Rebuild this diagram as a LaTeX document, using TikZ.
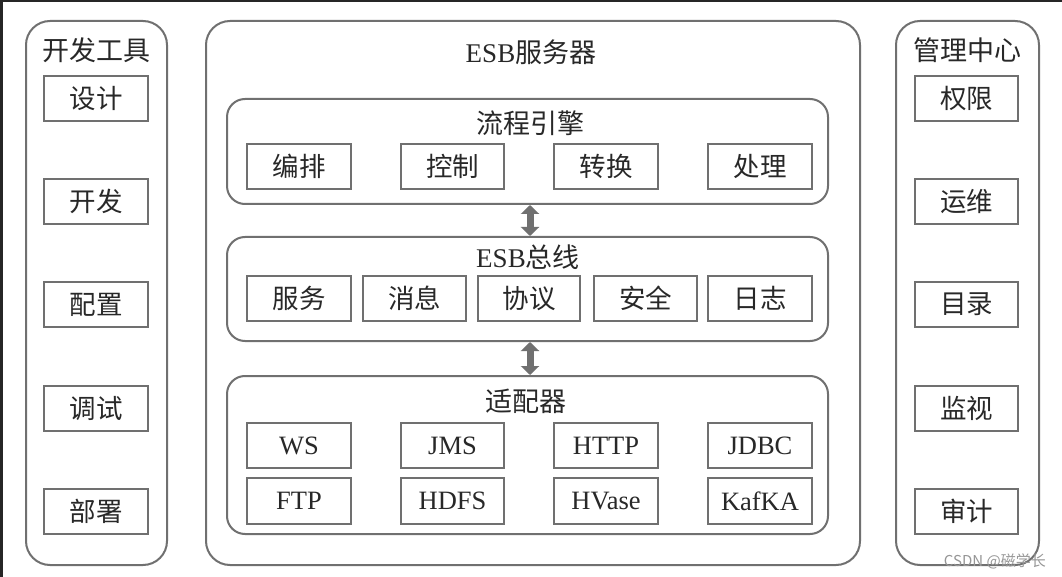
\documentclass[tikz,border=0pt]{standalone}
\usepackage{fontspec}
\setmainfont{Liberation Serif}
\newfontfamily\cjk{Noto Sans CJK SC}
\usetikzlibrary{arrows.meta}
\definecolor{linegray}{RGB}{112,112,112}
\definecolor{textc}{RGB}{40,40,40}
\definecolor{wmark}{RGB}{150,150,150}
\begin{document}
\begin{tikzpicture}[x=1pt,y=-1pt,
  panel/.style={draw=linegray, line width=2pt, rounded corners=24pt, inner sep=0pt},
  subpanel/.style={draw=linegray, line width=2pt, rounded corners=18pt, inner sep=0pt},
  item/.style={draw=linegray, line width=2pt, minimum width=104pt, minimum height=45pt, inner sep=0pt, text=textc, font=\fontsize{26.5}{26.5}\selectfont},
  ttl/.style={inner sep=0pt, text=textc, font=\fontsize{27}{27}\selectfont},
  fat/.style={draw=linegray, line width=7pt, {Triangle[length=9pt,width=18pt]}-{Triangle[length=9pt,width=18pt]}},
]
\useasboundingbox (0,0) rectangle (1062,577);
\fill[white] (0,0) rectangle (1062,577);
\fill[black!85] (0,0) rectangle (1062,2.5);
\fill[black!85] (0,0) rectangle (2.5,577);

% outer panels
\node[panel, minimum width=141pt, minimum height=544pt] (left) at (96.5,293) {};
\node[panel, minimum width=654pt, minimum height=544pt] (mid) at (533,293) {};
\node[panel, minimum width=143pt, minimum height=544pt] (right) at (967.5,293) {};

\node[ttl] (lefttitle) at (96,50) {\cjk 开发工具};
\node[ttl] (righttitle) at (967,50) {\cjk 管理中心};
\node[ttl] (midtitle) at (531,52) {ESB\cjk 服务器};

% left items
\node[item] (d1) at (96,98.5) {\cjk 设计};
\node[item] (d2) at (96,201.5) {\cjk 开发};
\node[item] (d3) at (96,304.5) {\cjk 配置};
\node[item] (d4) at (96,408.5) {\cjk 调试};
\node[item] (d5) at (96,511.5) {\cjk 部署};

% right items
\node[item, minimum width=103pt] (m1) at (966.5,98.5) {\cjk 权限};
\node[item, minimum width=103pt] (m2) at (966.5,201.5) {\cjk 运维};
\node[item, minimum width=103pt] (m3) at (966.5,304.5) {\cjk 目录};
\node[item, minimum width=103pt] (m4) at (966.5,408.5) {\cjk 监视};
\node[item, minimum width=103pt] (m5) at (966.5,511.5) {\cjk 审计};

% sub panels
\node[subpanel, minimum width=601pt, minimum height=105pt] (p1) at (527.5,151.5) {};
\node[subpanel, minimum width=601pt, minimum height=104pt] (p2) at (527.5,289) {};
\node[subpanel, minimum width=601pt, minimum height=158pt] (p3) at (527.5,455) {};

\node[ttl] (p1t) at (530,123) {\cjk 流程引擎};
\node[ttl] (p2t) at (528,257) {ESB\cjk 总线};
\node[ttl] (p3t) at (526,401) {\cjk 适配器};

% process engine items
\node[item] (e1) at (299,166.5) {\cjk 编排};
\node[item, minimum width=103pt] (e2) at (452.5,166.5) {\cjk 控制};
\node[item] (e3) at (606,166.5) {\cjk 转换};
\node[item] (e4) at (760,166.5) {\cjk 处理};

% bus items
\node[item] (b1) at (299,298.5) {\cjk 服务};
\node[item, minimum width=103pt] (b2) at (414.5,298.5) {\cjk 消息};
\node[item, minimum width=102pt] (b3) at (529,298.5) {\cjk 协议};
\node[item, minimum width=103pt] (b4) at (645.5,298.5) {\cjk 安全};
\node[item] (b5) at (760,298.5) {\cjk 日志};

% adapter items
\node[item] (a1) at (299,445.5) {WS};
\node[item, minimum width=103pt] (a2) at (452.5,445.5) {JMS};
\node[item] (a3) at (606,445.5) {HTTP};
\node[item] (a4) at (760,445.5) {JDBC};
\node[item, minimum height=46pt] (a5) at (299,501) {FTP};
\node[item, minimum width=103pt, minimum height=46pt] (a6) at (452.5,501) {HDFS};
\node[item, minimum height=46pt] (a7) at (606,501) {HVase};
\node[item, minimum height=46pt] (a8) at (760,501) {KafKA};

% arrows
\draw[fat] ([xshift=2.5pt]p1.south) -- ([xshift=2.5pt]p2.north);
\draw[fat] ([xshift=2.5pt]p2.south) -- ([xshift=2.5pt]p3.north);

% watermark
\node[inner sep=0pt, text=wmark, font=\cjk\fontsize{15}{15}\selectfont, anchor=east] (wm) at (1046,561) {CSDN @磁学长};
\end{tikzpicture}
\end{document}
